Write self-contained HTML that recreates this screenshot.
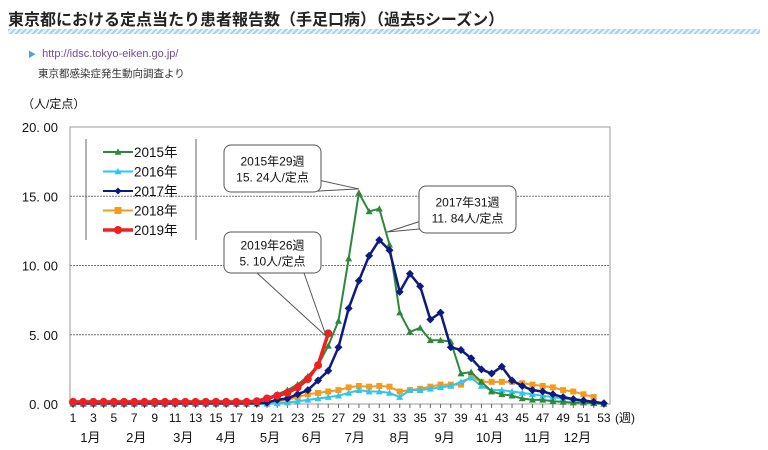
<!DOCTYPE html>
<html><head><meta charset="utf-8"><style>
body{margin:0;width:768px;height:450px;background:#fff;overflow:hidden;font-family:"Liberation Sans","Noto Sans CJK JP",sans-serif}
.t{position:absolute;left:8px;top:6px;font-size:16px;font-weight:bold;color:#222}
.stripe{position:absolute;left:8px;top:29px;width:752px;height:5px;background:repeating-linear-gradient(135deg,#a9d3e6 0 2px,#e6f3f9 2px 4px)}
.link{position:absolute;left:28px;top:48px;font-size:11px;color:#704c9c}
.src{position:absolute;left:38px;top:66px;font-size:10.5px;color:#333}
</style></head><body>
<div class="t">東京都における定点当たり患者報告数（手足口病）（過去5シーズン）</div>
<div class="stripe"></div>
<div class="link"><span style="color:#5aa0c8;font-size:8px">▶</span>&nbsp; http://idsc.tokyo-eiken.go.jp/</div>
<div class="src">東京都感染症発生動向調査より</div>
<svg id="c" width="768" height="450" style="position:absolute;left:0;top:0"></svg>
<script>
const weeks=[];for(let i=1;i<=53;i++)weeks.push(i);
const s2015=[0.1,0.1,0.1,0.1,0.1,0.1,0.1,0.1,0.1,0.1,0.1,0.1,0.1,0.1,0.1,0.1,0.15,0.15,0.2,0.4,0.7,1.0,1.4,2.0,2.8,4.2,6.0,10.5,15.24,13.9,14.1,11.5,6.6,5.2,5.5,4.6,4.6,4.5,2.2,2.3,1.6,0.9,0.7,0.6,0.4,0.3,0.3,0.2,0.15,0.1,0.1,0.05,0.0];
const s2016=[0,0,0,0,0,0,0,0,0,0,0,0,0,0,0,0,0,0,0,0,0.05,0.1,0.2,0.3,0.4,0.5,0.6,0.8,1.0,0.9,0.9,0.8,0.5,1.0,1.0,1.1,1.2,1.3,1.6,1.9,1.3,1.0,1.0,0.9,0.8,0.7,0.6,0.5,0.4,0.3,0.2,0.1];
const s2017=[0.05,0.05,0.05,0.05,0.05,0.05,0.05,0.05,0.05,0.05,0.05,0.05,0.05,0.05,0.05,0.05,0.05,0.05,0.05,0.1,0.3,0.4,0.7,1.0,1.7,2.4,4.1,6.9,8.9,10.7,11.84,11.1,8.1,9.4,8.5,6.1,6.6,4.1,3.9,3.3,2.5,2.2,2.7,1.7,1.3,1.0,0.9,0.7,0.5,0.35,0.25,0.15,0.05];
const s2018=[0,0,0,0,0,0,0,0,0,0,0,0,0,0,0,0,0,0,0,0.1,0.2,0.3,0.5,0.7,0.8,0.9,1.0,1.2,1.3,1.25,1.3,1.25,0.9,1.0,1.1,1.25,1.4,1.4,1.4,2.0,1.6,1.6,1.6,1.6,1.5,1.4,1.3,1.2,1.0,0.9,0.7,0.5];
const s2019=[0.15,0.15,0.15,0.15,0.15,0.15,0.15,0.15,0.15,0.15,0.15,0.15,0.15,0.15,0.15,0.15,0.15,0.15,0.2,0.4,0.6,0.8,1.2,1.8,2.8,5.10];
const yTicks=[0,5,10,15,20];
const yTickLabels=["0. 00","5. 00","10. 00","15. 00","20. 00"];
const months=["1月","2月","3月","4月","5月","6月","7月","8月","9月","10月","11月","12月"];
const monthWeek=[2.7,7.2,11.8,16,20.3,24.4,28.6,33,37.4,41.8,46.5,50.4];
const NS="http://www.w3.org/2000/svg",svg=document.getElementById('c');
const X=w=>73+(w-1)*10.21, Y=v=>404-v*13.85;
function el(t,a,p){const e=document.createElementNS(NS,t);for(const k in a)e.setAttribute(k,a[k]);(p||svg).appendChild(e);return e;}
function tx(x,y,s,size,anchor,name){const e=el('text',{x:x,y:y,'font-size':size,'text-anchor':anchor||'start',fill:'#111','font-family':'"Liberation Sans","Noto Sans CJK JP",sans-serif'});e.textContent=s;

return e;}
const box=el('rect',{x:70,y:127,width:540,height:277,fill:'none',stroke:'#999','stroke-width':1});


yTicks.forEach((v,i)=>{
 if(v>0&&v<20){const g=el('line',{x1:70,x2:610,y1:Y(v),y2:Y(v),stroke:'#777','stroke-dasharray':'2,1','stroke-width':1});
 
 }
 tx(58,Y(v)+5,yTickLabels[i],13,'end','y-tick-label');
});
tx(22,108,"（人/定点）",12,'start','y-axis-title');
weeks.forEach(w=>{const t=el('line',{x1:X(w),x2:X(w),y1:404,y2:408,stroke:'#666'});
 
 
 if(w%2==1)tx(X(w),422,String(w),12,'middle','x-tick-label');});
tx(615,422,"(週)",12,'start','x-axis-title');
months.forEach((m,i)=>tx(X(monthWeek[i]),442,m,13,'middle','month-label'));
function series(data,color,shape,name,sw,ms){
 const g=el('g',{});
 
 
 el('polyline',{points:data.map((v,i)=>X(i+1)+','+Y(v)).join(' '),fill:'none',stroke:color,'stroke-width':sw},g);
 data.forEach((v,i)=>marker(g,X(i+1),Y(v),shape,color,ms));
}
function marker(g,x,y,shape,color,s){
 if(shape=='tri')el('polygon',{points:`${x},${y-s} ${x-s},${y+s*0.8} ${x+s},${y+s*0.8}`,fill:color},g);
 else if(shape=='dia')el('polygon',{points:`${x},${y-s} ${x+s},${y} ${x},${y+s} ${x-s},${y}`,fill:color},g);
 else if(shape=='sq')el('rect',{x:x-s,y:y-s,width:2*s,height:2*s,fill:color},g);
 else el('circle',{cx:x,cy:y,r:s,fill:color},g);
}
series(s2018,'#f59a1c','sq','series-2018',2,3);
series(s2016,'#2fc6ee','tri','series-2016',2,3.5);
series(s2015,'#2a8a3a','tri','series-2015',2,3.5);
series(s2017,'#0d1a80','dia','series-2017',2.5,4);
series(s2019,'#f02020','circ','series-2019',3.5,4);
const lg=el('g',{});
el('line',{x1:86,x2:86,y1:139,y2:240,stroke:'#666'},lg);el('line',{x1:196,x2:196,y1:139,y2:240,stroke:'#666'},lg);
[['2015年','#2a8a3a','tri'],['2016年','#2fc6ee','tri'],['2017年','#0d1a80','dia'],['2018年','#f59a1c','sq'],['2019年','#f02020','circ']].forEach((d,i)=>{
 const y=152+i*19.5;
 el('line',{x1:103,x2:133,y1:y,y2:y,stroke:d[1],'stroke-width':d[2]=='circ'?3.5:2},lg);
 marker(lg,118,y,d[2],d[1],d[2]=='circ'?4:3.5);
 const t=tx(134,y+5,d[0],13.5,'start','legend-entry');lg.appendChild(t);
});
function callout(x,y,w,h,l1,l2,ptr,name){
 const g=el('g',{});
 ptr.forEach(p=>el('polyline',{points:p,fill:'none',stroke:'#555','stroke-width':1},g));
 el('rect',{x:x,y:y,width:w,height:h,rx:7,fill:'#fff',stroke:'#555'},g);
 g.appendChild(tx(x+w/2,y+h/2-3,l1,12,'middle','callout-line'));
 g.appendChild(tx(x+w/2,y+h/2+13,l2,12,'middle','callout-line'));
}
callout(224,145,97,47,'2015年29週','15. 24人/定点',[`300,192 ${X(29)},${Y(15.24)-4} 318,180`],'callout-2015');
callout(419,186,97,47,'2017年31週','11. 84人/定点',[`430,228 387,232 440,215`],'callout-2017');
callout(224,232,97,41,'2019年26週','5. 10人/定点',[`257,273 ${X(26)-2},${Y(5.1)+3} 304,273`],'callout-2019');
</script>
</body></html>
